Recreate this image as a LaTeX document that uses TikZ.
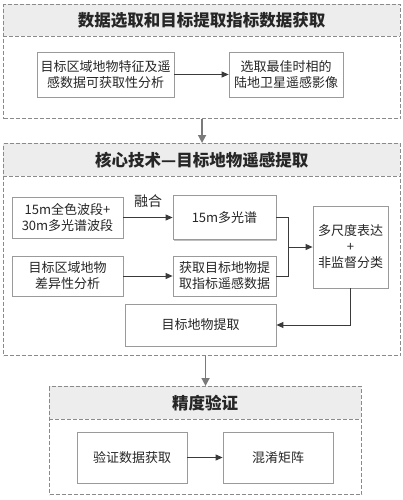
\documentclass[tikz,border=0pt]{standalone}
\usepackage{fontspec}
\setmainfont{Noto Sans CJK SC}
\usetikzlibrary{arrows.meta,shadows}
\definecolor{grpline}{HTML}{8A8A8A}
\definecolor{hdrfill}{HTML}{EDEDED}
\definecolor{boxline}{HTML}{9A9A9A}
\definecolor{txt}{HTML}{262626}
\definecolor{conn}{HTML}{3A3A3A}
\definecolor{bigarrow}{HTML}{7A7A7A}
\begin{document}
\begin{tikzpicture}[x=1pt,y=-1pt,
  grp/.style={draw=grpline, line width=1.1pt, dash pattern=on 4pt off 2pt, inner sep=0pt},
  hdr/.style={fill=hdrfill, draw=none, inner sep=0pt},
  sep/.style={draw=grpline, line width=1.1pt, dash pattern=on 4pt off 2pt},
  title/.style={text=txt, font=\fontsize{16.5}{18}\selectfont\bfseries, inner sep=0pt},
  box/.style={draw=boxline, fill=white, line width=0.8pt, align=center, inner sep=0pt,
    text=txt, font=\fontsize{13}{16}\selectfont,
    drop shadow={opacity=0.25, shadow xshift=1.2pt, shadow yshift=-1.2pt, fill=black}},
  conn/.style={draw=conn, line width=0.9pt, -{Triangle[length=7pt,width=6pt]}},
  line/.style={draw=conn, line width=0.9pt},
  big/.style={draw=bigarrow, line width=1.6pt, -{Triangle[length=8pt,width=8pt]}}
]
\useasboundingbox (0,0) rectangle (403,500);

% ---------- group 1 ----------
\node[hdr, minimum width=397, minimum height=32, anchor=north west] (h1) at (3,4) {};
\node[grp, minimum width=397, minimum height=114, anchor=north west] (g1) at (3,4) {};
\draw[sep] (h1.south west) -- (h1.south east);
\node[title] (t1) at (h1.center) {数据选取和目标提取指标数据获取};

\node[box, minimum width=137, minimum height=45] (b1) at (105.5,74.5) {目标区域地物特征及遥\\感数据可获取性分析};
\node[box, minimum width=114, minimum height=45] (b2) at (286,74.5) {选取最佳时相的\\陆地卫星遥感影像};
\draw[conn] (b1) -- (b2);

% ---------- group 2 ----------
\node[hdr, minimum width=397, minimum height=33, anchor=north west] (h2) at (3,143) {};
\node[grp, minimum width=397, minimum height=212, anchor=north west] (g2) at (3,143) {};
\draw[sep] (h2.south west) -- (h2.south east);
\node[title] (t2) at (h2.center) {核心技术—目标地物遥感提取};

\node[box, minimum width=111, minimum height=41] (a) at (67.5,217.5) {15m全色波段+\\30m多光谱波段};
\node[box, minimum width=103, minimum height=44] (b) at (224.5,217.5) {15m多光谱};
\node[box, minimum width=111, minimum height=40] (c) at (67.5,276) {目标区域地物\\差异性分析};
\node[box, minimum width=103, minimum height=40] (d) at (224.5,276) {获取目标地物提\\取指标遥感数据};
\node[box, minimum width=75, minimum height=82] (e) at (350.5,247) {多尺度表达\\+\\非监督分类};
\node[box, minimum width=151, minimum height=42] (f) at (200.5,325) {目标地物提取};
\coordinate (m) at (288,247);

\draw[conn] (a) -- node[anchor=south, inner sep=0pt, yshift=9pt, text=txt,
  font=\fontsize{14}{16}\selectfont] (fuse) {融合} (b);
\draw[conn] (c) -- (d);
\draw[line] (b.east) -| (m);
\draw[line] (d.east) -| (m);
\draw[conn] (m) -- (e.west);
\draw[conn] (e.south) |- (f.east);

% ---------- group 3 ----------
\node[hdr, minimum width=312, minimum height=33, anchor=north west] (h3) at (49,386) {};
\node[grp, minimum width=312, minimum height=108, anchor=north west] (g3) at (49,386) {};
\draw[sep] (h3.south west) -- (h3.south east);
\node[title] (t3) at (h3.center) {精度验证};

\node[box, minimum width=110, minimum height=51] (v1) at (132,457.5) {验证数据获取};
\node[box, minimum width=110, minimum height=51] (v2) at (278,457.5) {混淆矩阵};
\draw[conn] (v1) -- (v2);

% ---------- between groups ----------
\draw[big] (g1.south) -- (g2.north);
\draw[big] (g2.south -| g3.north) -- (g3.north);
\end{tikzpicture}
\end{document}
